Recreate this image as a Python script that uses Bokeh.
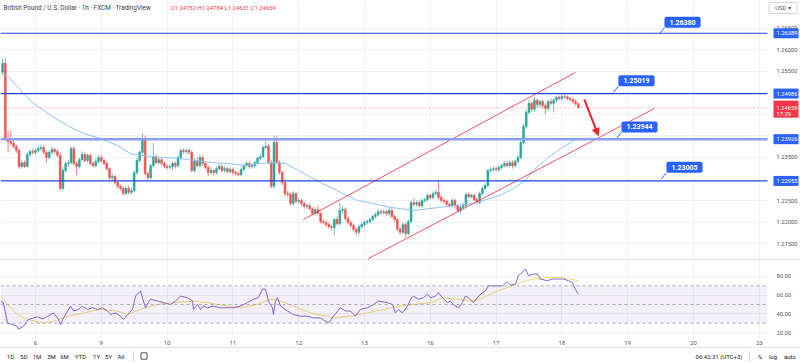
from bokeh.plotting import figure
from bokeh.layouts import column
from bokeh.models import (Range1d, FixedTicker, Span, Label,
                          BoxAnnotation, Arrow, NormalHead, Spacer, ColumnDataSource)
from bokeh.core.properties import value
from bokeh.embed import file_html
from bokeh.resources import INLINE

FONT = "Roboto"

# ---------------- data ----------------
symbol_title = "British Pound / U.S. Dollar \u00b7 1h \u00b7 FXCM \u00b7 TradingView"
first_open = 1.2548
closes = [
    1.2569, 1.2394, 1.2387, 1.2383, 1.2376, 1.2366, 1.2329, 1.2338, 1.2329, 1.2357,
    1.2364, 1.2362, 1.2366, 1.2371, 1.2373, 1.2362, 1.2350, 1.2362, 1.2369, 1.2364,
    1.2355, 1.2278, 1.2320, 1.2336, 1.2338, 1.2371, 1.2336, 1.2329, 1.2345, 1.2357,
    1.2343, 1.2355, 1.2336, 1.2331, 1.2341, 1.2350, 1.2343, 1.2336, 1.2324, 1.2303,
    1.2306, 1.2292, 1.2283, 1.2278, 1.2266, 1.2278, 1.2269, 1.2273, 1.2315, 1.2343,
    1.2362, 1.2390, 1.2313, 1.2303, 1.2331, 1.2352, 1.2338, 1.2345, 1.2336, 1.2329,
    1.2327, 1.2329, 1.2336, 1.2331, 1.2350, 1.2366, 1.2364, 1.2366, 1.2362, 1.2320,
    1.2343, 1.2331, 1.2350, 1.2336, 1.2327, 1.2315, 1.2320, 1.2315, 1.2324, 1.2329,
    1.2320, 1.2324, 1.2317, 1.2322, 1.2315, 1.2313, 1.2310, 1.2322, 1.2331, 1.2336,
    1.2329, 1.2331, 1.2338, 1.2348, 1.2352, 1.2373, 1.2376, 1.2338, 1.2283, 1.2385,
    1.2338, 1.2315, 1.2292, 1.2266, 1.2264, 1.2243, 1.2266, 1.2248, 1.2250, 1.2243,
    1.2236, 1.2238, 1.2231, 1.2220, 1.2229, 1.2220, 1.2201, 1.2199, 1.2194, 1.2189,
    1.2187, 1.2206, 1.2196, 1.2227, 1.2229, 1.2208, 1.2199, 1.2192, 1.2183, 1.2176,
    1.2189, 1.2194, 1.2199, 1.2201, 1.2206, 1.2213, 1.2217, 1.2224, 1.2222, 1.2224,
    1.2220, 1.2227, 1.2213, 1.2206, 1.2183, 1.2176, 1.2194, 1.2173, 1.2201, 1.2245,
    1.2241, 1.2245, 1.2238, 1.2250, 1.2252, 1.2262, 1.2257, 1.2266, 1.2269, 1.2257,
    1.2250, 1.2248, 1.2241, 1.2238, 1.2250, 1.2238, 1.2227, 1.2234, 1.2238, 1.2264,
    1.2259, 1.2262, 1.2252, 1.2245, 1.2266, 1.2278, 1.2285, 1.2320, 1.2322, 1.2324,
    1.2322, 1.2327, 1.2331, 1.2336, 1.2331, 1.2338, 1.2331, 1.2341, 1.2350, 1.2385,
    1.2422, 1.2455, 1.2476, 1.2462, 1.2483, 1.2473, 1.2480, 1.2471, 1.2464, 1.2480,
    1.2476, 1.2483, 1.2490, 1.2487, 1.2492, 1.2491, 1.2487, 1.2485, 1.2480, 1.24752,
    1.24659,
]
highs = [
    1.2580, 1.2582, 1.2413, 1.2413, 1.2390, 1.2380, 1.2371, 1.2343, 1.2343, 1.2362,
    1.2369, 1.2371, 1.2371, 1.2378, 1.2380, 1.2378, 1.2366, 1.2366, 1.2376, 1.2373,
    1.2369, 1.2362, 1.2327, 1.2341, 1.2345, 1.2376, 1.2376, 1.2341, 1.2350, 1.2364,
    1.2362, 1.2359, 1.2359, 1.2341, 1.2348, 1.2355, 1.2355, 1.2348, 1.2341, 1.2327,
    1.2313, 1.2310, 1.2296, 1.2287, 1.2283, 1.2283, 1.2285, 1.2280, 1.2320, 1.2348,
    1.2366, 1.2406, 1.2401, 1.2317, 1.2336, 1.2383, 1.2357, 1.2350, 1.2350, 1.2341,
    1.2334, 1.2334, 1.2341, 1.2341, 1.2355, 1.2371, 1.2371, 1.2371, 1.2371, 1.2366,
    1.2348, 1.2350, 1.2357, 1.2355, 1.2341, 1.2331, 1.2327, 1.2324, 1.2329, 1.2336,
    1.2334, 1.2331, 1.2329, 1.2327, 1.2327, 1.2320, 1.2317, 1.2327, 1.2336, 1.2341,
    1.2341, 1.2336, 1.2343, 1.2352, 1.2357, 1.2378, 1.2390, 1.2383, 1.2345, 1.2401,
    1.2401, 1.2343, 1.2320, 1.2296, 1.2273, 1.2269, 1.2271, 1.2269, 1.2255, 1.2255,
    1.2248, 1.2243, 1.2243, 1.2234, 1.2234, 1.2238, 1.2224, 1.2206, 1.2203, 1.2199,
    1.2194, 1.2210, 1.2213, 1.2245, 1.2236, 1.2234, 1.2213, 1.2203, 1.2196, 1.2187,
    1.2194, 1.2199, 1.2203, 1.2206, 1.2210, 1.2217, 1.2222, 1.2229, 1.2229, 1.2229,
    1.2229, 1.2234, 1.2231, 1.2217, 1.2210, 1.2187, 1.2199, 1.2199, 1.2206, 1.2250,
    1.2255, 1.2250, 1.2250, 1.2255, 1.2257, 1.2266, 1.2266, 1.2271, 1.2276, 1.2296,
    1.2262, 1.2255, 1.2252, 1.2245, 1.2255, 1.2255, 1.2243, 1.2238, 1.2245, 1.2269,
    1.2269, 1.2266, 1.2266, 1.2257, 1.2271, 1.2283, 1.2290, 1.2324, 1.2327, 1.2331,
    1.2329, 1.2331, 1.2336, 1.2341, 1.2343, 1.2343, 1.2343, 1.2345, 1.2355, 1.2390,
    1.2427, 1.2462, 1.2483, 1.2480, 1.2490, 1.2487, 1.2485, 1.2485, 1.2476, 1.2485,
    1.2487, 1.2487, 1.2494, 1.2494, 1.2497, 1.2499, 1.2494, 1.2492, 1.2490, 1.2485,
    1.24784,
]
lows = [
    1.2543, 1.2390, 1.2362, 1.2378, 1.2371, 1.2360, 1.2324, 1.2324, 1.2325, 1.2327,
    1.2352, 1.2357, 1.2357, 1.2362, 1.2366, 1.2357, 1.2338, 1.2345, 1.2357, 1.2359,
    1.2350, 1.2273, 1.2273, 1.2315, 1.2329, 1.2334, 1.2331, 1.2308, 1.2324, 1.2341,
    1.2338, 1.2338, 1.2331, 1.2327, 1.2327, 1.2336, 1.2338, 1.2331, 1.2320, 1.2299,
    1.2296, 1.2287, 1.2278, 1.2273, 1.2262, 1.2262, 1.2264, 1.2264, 1.2269, 1.2310,
    1.2338, 1.2357, 1.2308, 1.2299, 1.2299, 1.2327, 1.2334, 1.2334, 1.2331, 1.2324,
    1.2322, 1.2322, 1.2320, 1.2324, 1.2327, 1.2345, 1.2359, 1.2359, 1.2357, 1.2315,
    1.2315, 1.2327, 1.2327, 1.2331, 1.2322, 1.2306, 1.2310, 1.2308, 1.2310, 1.2320,
    1.2315, 1.2315, 1.2313, 1.2313, 1.2310, 1.2308, 1.2306, 1.2306, 1.2317, 1.2327,
    1.2324, 1.2324, 1.2327, 1.2334, 1.2343, 1.2348, 1.2369, 1.2334, 1.2278, 1.2278,
    1.2334, 1.2310, 1.2285, 1.2259, 1.2257, 1.2238, 1.2238, 1.2243, 1.2243, 1.2238,
    1.2231, 1.2231, 1.2227, 1.2215, 1.2215, 1.2215, 1.2196, 1.2194, 1.2189, 1.2185,
    1.2180, 1.2169, 1.2192, 1.2192, 1.2220, 1.2203, 1.2194, 1.2187, 1.2178, 1.2169,
    1.2171, 1.2185, 1.2189, 1.2194, 1.2196, 1.2201, 1.2208, 1.2213, 1.2217, 1.2217,
    1.2215, 1.2215, 1.2208, 1.2199, 1.2178, 1.2171, 1.2171, 1.2164, 1.2169, 1.2196,
    1.2236, 1.2236, 1.2234, 1.2234, 1.2245, 1.2248, 1.2252, 1.2252, 1.2262, 1.2252,
    1.2245, 1.2243, 1.2236, 1.2234, 1.2234, 1.2231, 1.2222, 1.2220, 1.2229, 1.2234,
    1.2255, 1.2255, 1.2248, 1.2241, 1.2241, 1.2262, 1.2273, 1.2280, 1.2315, 1.2317,
    1.2317, 1.2317, 1.2322, 1.2327, 1.2327, 1.2327, 1.2324, 1.2327, 1.2336, 1.2345,
    1.2380, 1.2417, 1.2450, 1.2455, 1.2457, 1.2466, 1.2466, 1.2464, 1.2450, 1.2459,
    1.2471, 1.2455, 1.2478, 1.2483, 1.2483, 1.2487, 1.2483, 1.2480, 1.2476, 1.2471,
    1.24631,
]
opens = [first_open] + closes[:-1]
candle_hour = list(range(1, len(closes) + 1))

ma_hour = [0.97, 3.15, 7.53, 12.3, 18.5, 24.7, 30.5, 36.7, 42.9, 47.6,
           51.3, 59.3, 65.2, 71.3, 77.6, 83.4, 89.6, 94.3, 99.4, 104.2,
           108.9, 116.9, 124.2, 130.4, 136.3, 142.5, 150.9, 160.7, 172.7, 182.6,
           187.3, 191.7, 194.6, 199.7, 204.5, 210.7]
ma_price = [1.2543, 1.2538, 1.2506, 1.2476, 1.2448, 1.2424, 1.2406, 1.2394, 1.2378, 1.2359,
            1.2355, 1.2350, 1.2348, 1.2343, 1.2338, 1.2336, 1.2331, 1.2336, 1.2338, 1.2336,
            1.2320, 1.2292, 1.2269, 1.2250, 1.2243, 1.2234, 1.2227, 1.2234, 1.2243, 1.2262,
            1.2278, 1.2296, 1.2320, 1.2348, 1.2371, 1.2394]

rsi_hour = [0.2, 1.3, 2.8, 6.4, 6.8, 8.6, 10.4, 13.7, 15.6, 17.4,
            19.6, 21.4, 22.1, 23.2, 25.8, 26.9, 28.7, 30.1, 32.0, 33.8,
            35.6, 37.4, 39.3, 40.4, 42.2, 44.0, 45.1, 46.6, 48.4, 49.5,
            51.3, 53.1, 54.9, 57.5, 59.7, 62.2, 64.1, 65.9, 68.4, 70.3,
            70.6, 72.1, 73.2, 74.3, 75.7, 77.9, 80.5, 85.2, 87.8, 90.3,
            92.5, 94.3, 95.8, 96.9, 98.0, 99.4, 99.8, 100.5, 101.3, 102.4,
            104.9, 107.1, 109.6, 112.2, 114.4, 116.9, 119.9, 121.7, 124.2, 126.1,
            127.9, 129.7, 131.5, 134.1, 136.3, 138.1, 141.4, 143.2, 144.3, 145.4,
            146.8, 148.7, 149.8, 150.9, 152.7, 154.5, 156.0, 157.1, 158.9, 160.0,
            161.4, 163.3, 164.3, 165.4, 167.3, 168.7, 169.8, 170.9, 172.7, 174.2,
            175.3, 177.1, 178.2, 180.8, 183.3, 185.1, 186.2, 188.1, 189.1, 190.6,
            191.7, 192.8, 194.6, 196.1, 197.2, 199.7, 201.5, 203.4, 205.6, 207.4,
            208.8, 209.9, 211.0]
rsi_value = [53.7, 52, 30.3, 26.7, 23.8, 26.7, 34, 36.8, 34.6, 37.5,
             41, 34, 28.5, 35.7, 48.3, 43, 44.7, 48.3, 44.7, 46.5,
             44.7, 46.5, 43, 39.3, 41, 37.5, 34, 39.3, 44.7, 59,
             64.5, 46.5, 55.6, 53.7, 52, 50, 53.7, 59, 57.3, 53.7,
             44.7, 50, 44.7, 48.3, 46.5, 48.3, 46.5, 46.5, 48.3, 52,
             55.6, 57.3, 66.4, 66.4, 53.7, 46.5, 39.3, 53.7, 57.3, 48.3,
             43, 39.3, 37.5, 37.5, 35.7, 35.7, 30.3, 37.5, 46.5, 43,
             43, 37.5, 44.7, 46.5, 50, 53.7, 52, 50, 41, 44.7,
             41, 48.3, 55.6, 59, 55.6, 57.3, 61, 57.3, 59, 62.7,
             57.3, 52, 53.7, 50, 46.5, 52, 59, 57.3, 52, 57.3,
             61, 64.5, 69.9, 69.9, 69.9, 74.3, 70.7, 71.8, 80.8, 84.3,
             88, 80.8, 82.6, 82.6, 77.2, 75.4, 77.2, 77.2, 77.2, 75.4,
             73.5, 66.4, 61]
rsi_ma_hour = [0.2, 2.8, 6.4, 10.1, 15.9, 19.6, 24.7, 30.5, 36.7, 42.9,
               46.6, 51.3, 57.5, 63.3, 70.6, 75.7, 83.0, 87.8, 94.0, 98.7,
               102.4, 107.1, 113.3, 119.5, 121.7, 127.9, 134.1, 139.9, 146.1, 150.9,
               157.1, 161.8, 166.9, 171.6, 175.3, 180.0, 185.1, 189.9, 194.6, 199.7,
               204.5, 208.1, 211.0]
rsi_ma_value = [59, 50, 39.3, 34, 30.3, 32, 37.5, 41, 44.7, 43,
                39.3, 44.7, 50, 52, 53.7, 52, 48.3, 46.5, 50, 55.6,
                53.7, 48.3, 41, 37.5, 35.7, 37.5, 41, 44.7, 48.3, 50,
                52, 57.3, 55.6, 53.7, 55.6, 62.7, 68.1, 73.5, 77.2, 78.9,
                78.9, 77.2, 75.4]

level_prices = [1.26389, 1.24986, 1.23926, 1.22955]
callout_hour = [240.6, 223.8, 224.9, 241.3]
callout_price = [1.26380, 1.25019, 1.23944, 1.23005]
channel_upper_hour = [110.7, 209.9]
channel_upper_price = [1.22057, 1.25477]
channel_lower_hour = [134.4, 238.7]
channel_lower_price = [1.21150, 1.24639]
arrow_hour = [213.2, 218.3]
arrow_price = [1.24849, 1.24011]
last_time = "17:29"

day_hours = [13, 37, 61, 85, 109, 133, 157, 181, 205, 229, 253, 277]
day_labels = ["6", "9", "10", "11", "12", "13", "16", "17", "18", "19", "20", "23"]
price_ticks = [1.215, 1.220, 1.225, 1.230, 1.235, 1.240, 1.245, 1.250, 1.255, 1.260, 1.265]
rsi_ticks = [20, 40, 60, 80]
rsi_levels = [70, 50, 30]
range_buttons = ["1D", "5D", "1M", "3M", "6M", "YTD", "1Y", "5Y", "All"]
status_texts = ["06:42:31 (UTC+3)", "%", "log", "auto"]

# ---------------- geometry ----------------
W, SCALE_W = 800, 33
FRAME_W = W - SCALE_W          # chart area; the price scale lives in the remaining strip
MAIN_H, RSI_H, BAR_H = 259, 87, 15
X0, X1 = 0.24, 280.0
Y0, Y1 = 1.21128, 1.27151
RY0, RY1 = 13.7, 97.0
PX_H = FRAME_W / (X1 - X0)
X1_EXT = X0 + W / PX_H
PRICE_PX = (Y1 - Y0) / MAIN_H

BLUE = "#2962ff"
RED = "#f23645"
GRID = "#eef1f6"
AX_TXT = "#50535e"
TICK_DX = 9                     # px from chart edge to tick label
BADGE_CX = X1 + 18.5 / PX_H     # centre of price-scale badges


def scale_strip(fig, lo, hi, ticks, fmt):
    """White price-scale strip to the right of the chart with tick labels."""
    fig.quad(left=[X1], right=[X1_EXT], bottom=[lo], top=[hi], fill_color="white",
             line_color=None, level="overlay")
    fig.text(x=[X1] * len(ticks), y=ticks, text=[fmt.format(t) for t in ticks],
             x_offset=TICK_DX, text_align="left", text_baseline="middle",
             text_font=value(FONT), text_font_size="5.8px", text_color=AX_TXT,
             level="overlay")


# ---------------- main price pane ----------------
p = figure(width=W, height=MAIN_H, x_range=Range1d(X0, X1_EXT), y_range=Range1d(Y0, Y1),
           output_backend="svg", toolbar_location=None, x_axis_location=None,
           y_axis_location=None, min_border=0)
p.outline_line_color = None
p.ygrid.ticker = FixedTicker(ticks=price_ticks)
p.xgrid.ticker = FixedTicker(ticks=day_hours)
p.grid.grid_line_color = GRID

up, dn = "#26a69a", "#ef5350"
colors = [up if c >= o else dn for o, c in zip(opens, closes)]
src = ColumnDataSource(dict(
    x=candle_hour, hi=highs, lo=lows,
    top=[max(o, c) for o, c in zip(opens, closes)],
    bot=[min(o, c) for o, c in zip(opens, closes)],
    color=colors))
p.segment(x0="x", y0="hi", x1="x", y1="lo", line_color="color", line_width=1,
          line_alpha=0.7, source=src)
p.vbar(x="x", width=0.68, top="top", bottom="bot", fill_color="color",
       line_color="color", line_width=0.5, source=src)

p.line(ma_hour, ma_price, line_color="#8cc2f7", line_width=1)

level_colors = ["#2447d6", "#2447d6", "#8a9ef6", "#2447d6"]
level_widths = [1.2, 1.2, 2.6, 1.2]
for lv, lc, lw in zip(level_prices, level_colors, level_widths):
    p.add_layout(Span(location=lv, dimension="width", line_color=lc, line_width=lw))
p.add_layout(Span(location=closes[-1], dimension="width", line_color=RED,
                  line_alpha=0.35, line_dash="2 2", line_width=1))

p.line(channel_upper_hour, channel_upper_price, line_color=RED, line_width=1, line_alpha=0.85)
p.line(channel_lower_hour, channel_lower_price, line_color=RED, line_width=1, line_alpha=0.85)

p.add_layout(Arrow(end=NormalHead(size=7, fill_color="#e8202a", line_color="#e8202a"),
                   x_start=arrow_hour[0], y_start=arrow_price[0],
                   x_end=arrow_hour[1], y_end=arrow_price[1],
                   line_color="#e8202a", line_width=2))

# callouts
DX, DY = 5, 6
for ch, cp in zip(callout_hour, callout_price):
    p.segment(x0=[ch], y0=[cp], x1=[ch + DX / PX_H], y1=[cp + DY * PRICE_PX],
              line_color=BLUE, line_width=1)
    p.add_layout(Label(x=ch, y=cp, x_offset=DX, y_offset=DY, text=f"{cp:.5f}",
                       text_align="left", text_baseline="bottom",
                       text_font=FONT, text_font_size="7px", text_font_style="bold",
                       text_color="white", background_fill_color=BLUE,
                       padding=(5, 3), border_radius=2))

# price scale + badges
scale_strip(p, Y0, Y1, price_ticks, "{:.5f}")
p.rect(x=[BADGE_CX] * len(level_prices), y=level_prices, width=25, height=10,
       width_units="screen", height_units="screen", fill_color=BLUE, line_color=None,
       level="overlay")
p.text(x=[X1] * len(level_prices), y=level_prices, text=[f"{v:.5f}" for v in level_prices],
       x_offset=TICK_DX, text_align="left", text_baseline="middle",
       text_font=value(FONT), text_font_size="5.8px", text_color="white", level="overlay")
p.rect(x=[BADGE_CX], y=[closes[-1] - 1.5 * PRICE_PX], width=25, height=17,
       width_units="screen", height_units="screen", fill_color=RED, line_color=None,
       level="overlay")
p.text(x=[X1, X1], y=[closes[-1], closes[-1] - 6 * PRICE_PX],
       text=[f"{closes[-1]:.5f}", last_time], x_offset=TICK_DX, text_align="left",
       text_baseline="middle", text_font=value(FONT), text_font_size="5.8px",
       text_color="white", level="overlay")
p.rect(x=[X1 + 15.5 / PX_H], y=[Y1 - 7.5 * PRICE_PX], width=28, height=11,
       width_units="screen", height_units="screen", fill_color="white",
       line_color="#d1d4dc", line_width=1, level="overlay")
p.text(x=[X1 + 15.5 / PX_H], y=[Y1 - 7.5 * PRICE_PX], text=["USD \u25be"],
       text_align="center", text_baseline="middle", text_font=value(FONT),
       text_font_size="5.8px", text_color=AX_TXT, level="overlay")

# header
p.add_layout(Label(x=X0, y=Y1, x_offset=3, y_offset=-7, text=symbol_title,
                   text_align="left", text_baseline="middle",
                   text_font=FONT, text_font_size="6.4px", text_color="#3b3e48"))
ohlc = f"O{opens[-1]:.5f} H{highs[-1]:.5f} L{lows[-1]:.5f} C{closes[-1]:.5f}"
p.add_layout(Label(x=X0, y=Y1, x_offset=170, y_offset=-7, text=ohlc,
                   text_align="left", text_baseline="middle",
                   text_font=FONT, text_font_size="5.9px", text_color=RED))

# ---------------- RSI pane ----------------
r = figure(width=W, height=RSI_H, x_range=p.x_range, y_range=Range1d(RY0, RY1),
           output_backend="svg", toolbar_location=None, y_axis_location=None,
           min_border=0)
r.outline_line_color = None
rx = r.xaxis[0]
rx.ticker = FixedTicker(ticks=day_hours)
rx.major_label_overrides = {h: lab for h, lab in zip(day_hours, day_labels)}
rx.axis_line_color = None
rx.major_tick_line_color = None
rx.minor_tick_line_color = None
rx.major_tick_out = 0
rx.major_label_text_font = FONT
rx.major_label_text_color = AX_TXT
rx.major_label_standoff = 2
rx.major_label_text_font_size = "6px"
r.ygrid.ticker = FixedTicker(ticks=rsi_ticks)
r.xgrid.ticker = FixedTicker(ticks=day_hours)
r.grid.grid_line_color = GRID

r.add_layout(BoxAnnotation(bottom=rsi_levels[2], top=rsi_levels[0], fill_color="#7e57c2",
                           fill_alpha=0.09, line_color=None))
for lv in rsi_levels:
    r.add_layout(Span(location=lv, dimension="width", line_color="#9598a1",
                      line_dash="3 3", line_width=1, line_alpha=0.8))
r.line(rsi_ma_hour, rsi_ma_value, line_color="#f5d86c", line_width=1)
r.line(rsi_hour, rsi_value, line_color="#8466cc", line_width=1)
scale_strip(r, RY0, RY1, rsi_ticks, "{:.2f}")

# ---------------- bottom bar ----------------
b = figure(width=W, height=BAR_H, x_range=Range1d(0, 800), y_range=Range1d(0, 1),
           output_backend="svg", toolbar_location=None, x_axis_location=None,
           y_axis_location=None, min_border=0)
b.outline_line_color = None
b.grid.visible = False
b.text(x=[10, 23.5, 36.5, 51, 64, 80, 96, 108, 120.5], y=[0.5] * len(range_buttons),
       text=range_buttons, text_align="center", text_baseline="middle",
       text_font=value(FONT), text_font_size="6px", text_color="#131722")
b.text(x=[718.5, 759.5, 772.5, 789.5], y=[0.5] * len(status_texts), text=status_texts,
       text_align="center", text_baseline="middle",
       text_font=value(FONT), text_font_size="6px", text_color="#131722")
b.segment(x0=[133, 749], y0=[0.15, 0.15], x1=[133, 749], y1=[0.85, 0.85],
          line_color="#d1d4dc", line_width=1)
b.rect(x=[143.5], y=[0.5], width=6, height=0.42, fill_color=None,
       line_color="#50535e", line_width=1)

sep = dict(width=W, height=1, styles={"background-color": "#e0e3eb"})
layout = column(p, Spacer(**sep), r, Spacer(**sep), b)

open("out.html", "w").write(file_html(layout, INLINE))
